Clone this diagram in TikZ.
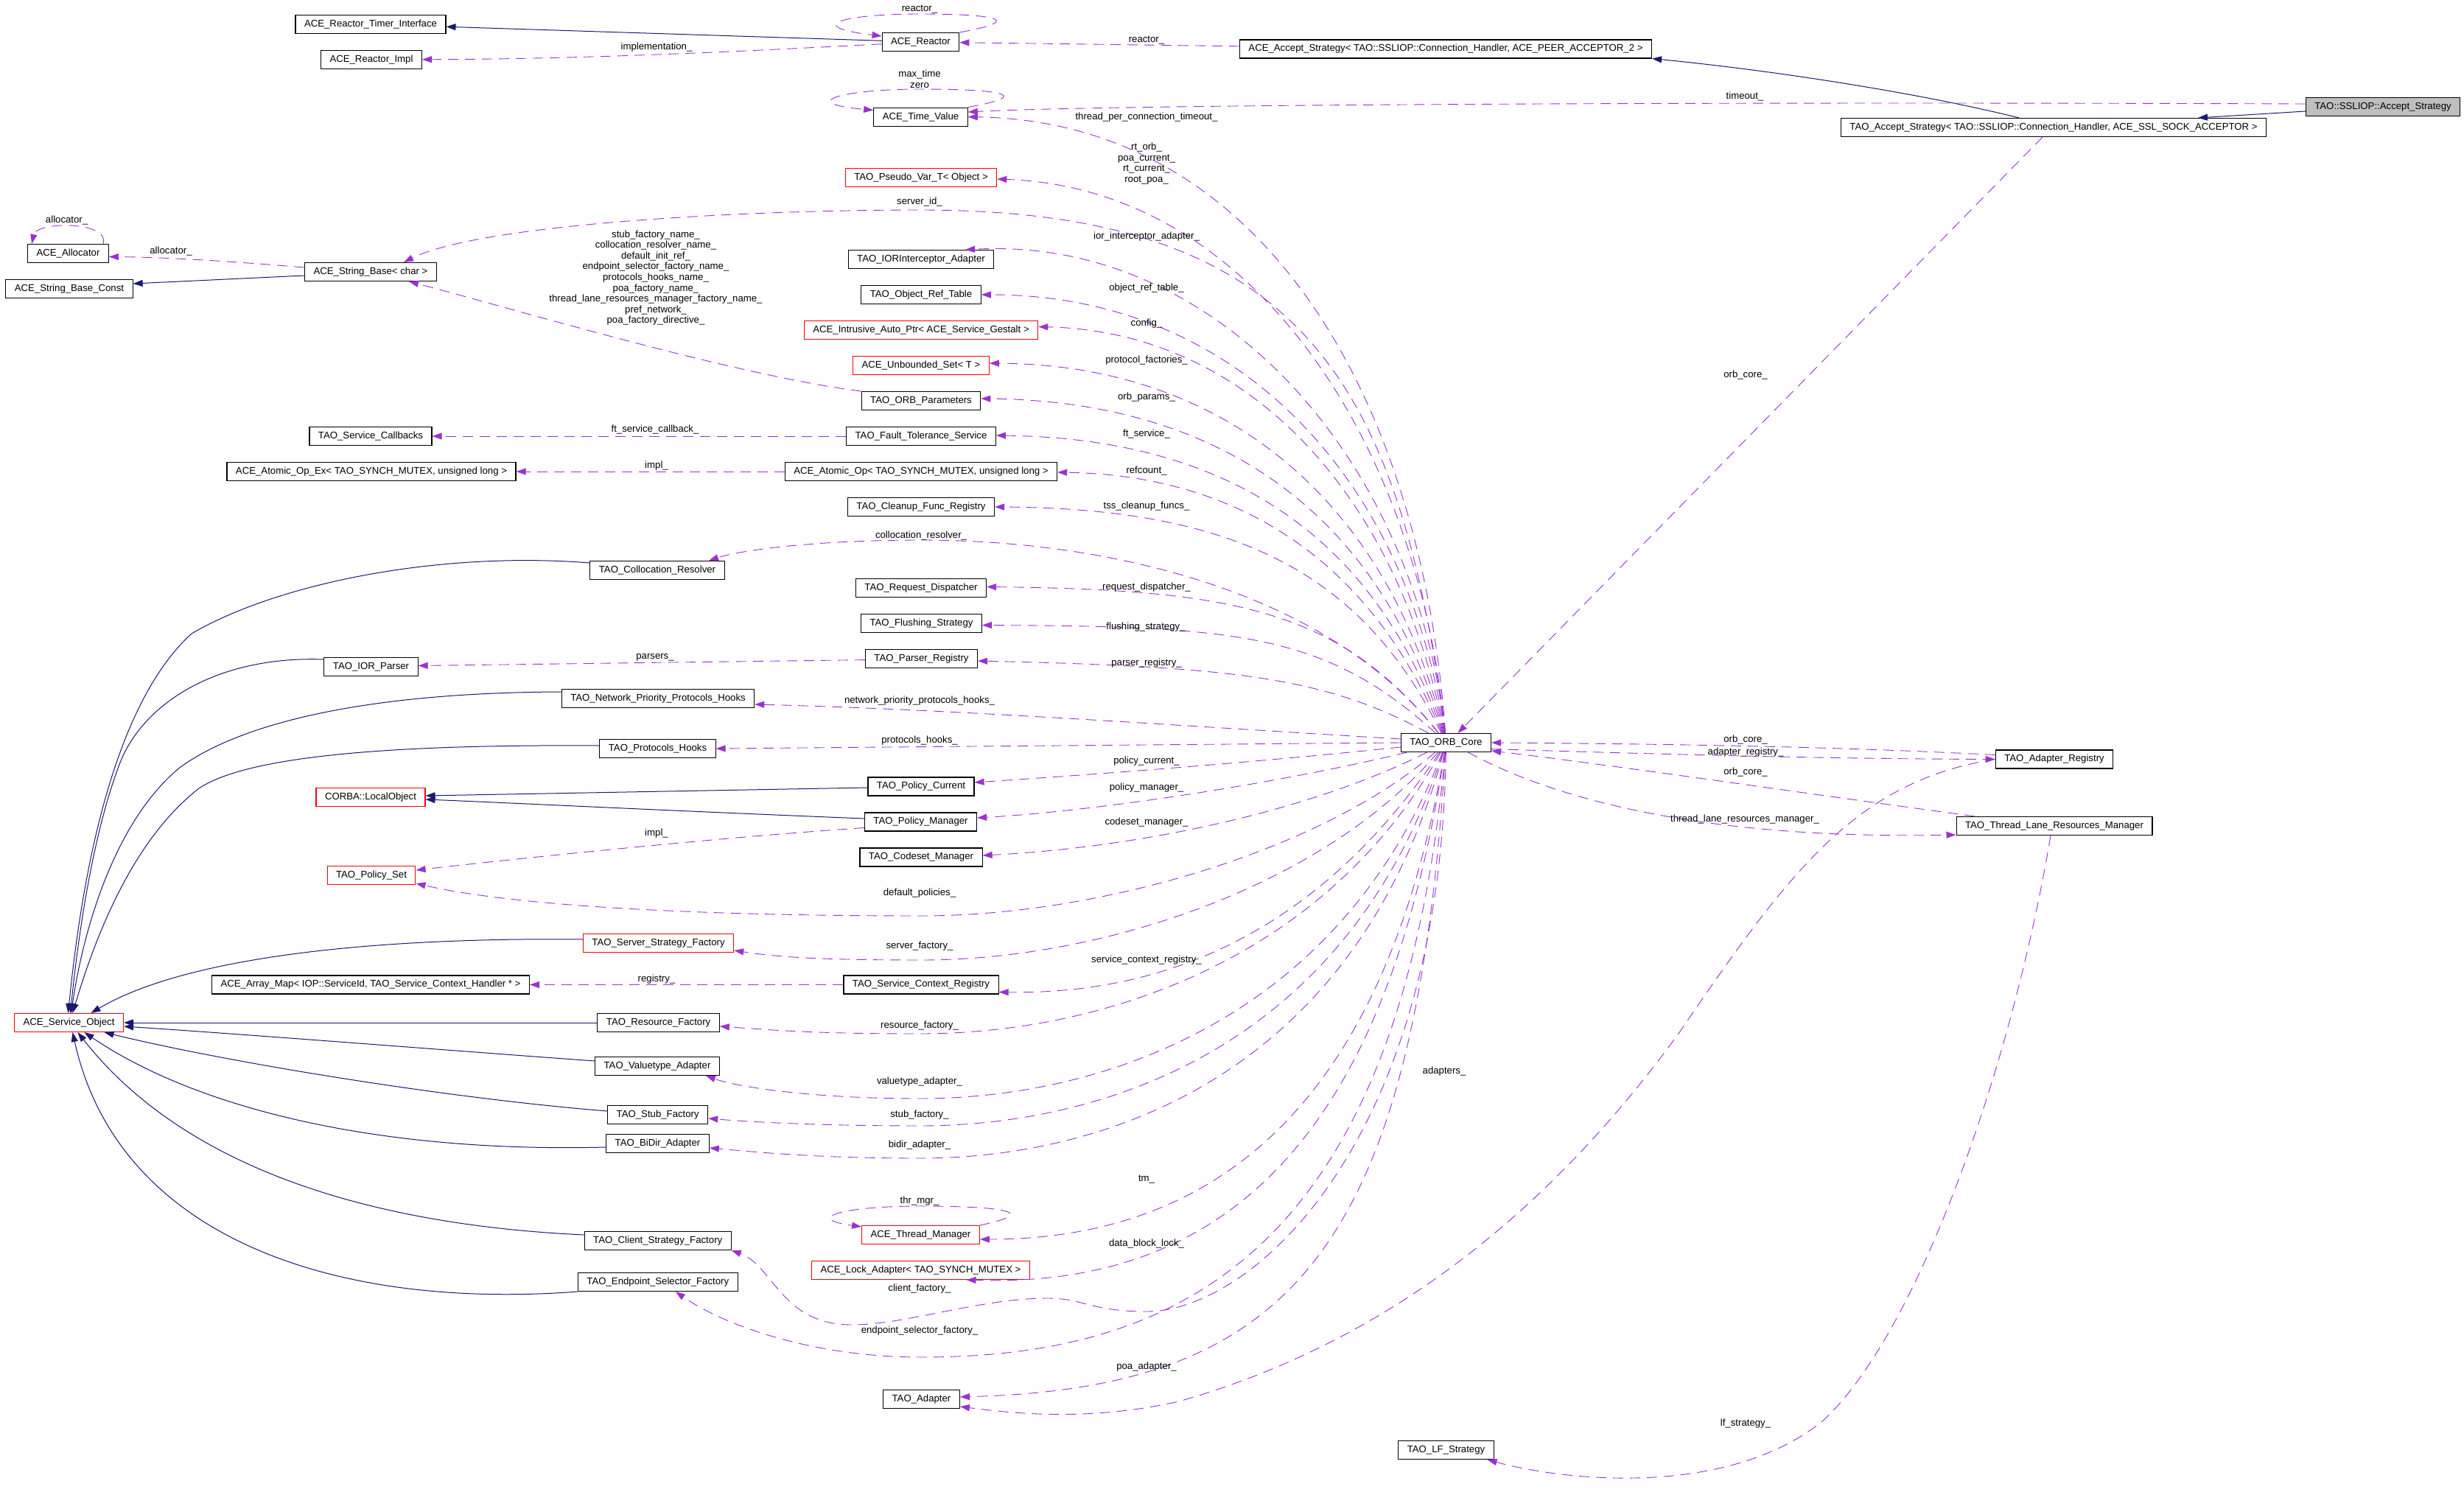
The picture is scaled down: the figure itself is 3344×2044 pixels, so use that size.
\documentclass[tikz,border=0pt]{standalone}
\usepackage{fontspec}
\setmainfont{Liberation Sans}
\usetikzlibrary{arrows.meta}
\definecolor{navyc}{HTML}{191970}
\definecolor{purpc}{HTML}{9A32CD}
\definecolor{greyc}{HTML}{BFBFBF}
\newcommand{\dxf}{\fontsize{13.2}{14.6}\selectfont}
\begin{document}
\begin{tikzpicture}[x=1pt,y=-1pt,
  cls/.style={draw=black, line width=1.1pt, minimum height=25pt, inner xsep=12pt, inner ysep=0pt, font=\dxf},
  redcls/.style={cls, draw=red},
  inherit/.style={draw=navyc, line width=1pt, -{Triangle[length=13pt,width=9pt]}},
  dep/.style={draw=purpc, line width=0.9pt, dash pattern=on 14pt off 9pt, -{Triangle[length=13pt,width=9pt]}},
  lab/.style={font=\dxf, inner sep=0pt, align=center}]
\useasboundingbox[fill=white] (0,0) rectangle (3344,2044);

% ---------- nodes ----------
\node[cls] (nRTI) at (503,33) {ACE\_Reactor\_Timer\_Interface};
\node[cls] (nRImpl) at (504,81) {ACE\_Reactor\_Impl};
\node[cls] (nAlloc) at (92.5,344) {ACE\_Allocator};
\node[cls] (nSBC) at (94,392) {ACE\_String\_Base\_Const};
\node[cls] (nSB) at (503,369) {ACE\_String\_Base< char >};
\node[cls] (nSCB) at (503,592) {TAO\_Service\_Callbacks};
\node[cls] (nAOPEx) at (504,640) {ACE\_Atomic\_Op\_Ex< TAO\_SYNCH\_MUTEX, unsigned long >};
\node[cls] (nReactor) at (1249.5,57) {ACE\_Reactor};
\node[cls] (nTV) at (1249.5,158.6) {ACE\_Time\_Value};
\node[redcls] (nPV) at (1250,241) {TAO\_Pseudo\_Var\_T< Object >};
\node[cls] (nIORA) at (1250,352) {TAO\_IORInterceptor\_Adapter};
\node[cls] (nORT) at (1250,400) {TAO\_Object\_Ref\_Table};
\node[redcls] (nIAP) at (1250,448) {ACE\_Intrusive\_Auto\_Ptr< ACE\_Service\_Gestalt >};
\node[redcls] (nUS) at (1250,496) {ACE\_Unbounded\_Set< T >};
\node[cls] (nORBP) at (1250,544) {TAO\_ORB\_Parameters};
\node[cls] (nFTS) at (1250,592) {TAO\_Fault\_Tolerance\_Service};
\node[cls] (nAOP) at (1250,640) {ACE\_Atomic\_Op< TAO\_SYNCH\_MUTEX, unsigned long >};
\node[cls] (nCFR) at (1250,688) {TAO\_Cleanup\_Func\_Registry};
\node[cls] (nColR) at (892,774) {TAO\_Collocation\_Resolver};
\node[cls] (nRD) at (1250,798) {TAO\_Request\_Dispatcher};
\node[cls] (nFS) at (1250.5,846) {TAO\_Flushing\_Strategy};
\node[cls] (nPR) at (1250.5,894) {TAO\_Parser\_Registry};
\node[cls] (nIORP) at (503.5,905) {TAO\_IOR\_Parser};
\node[cls] (nNPH) at (893,948) {TAO\_Network\_Priority\_Protocols\_Hooks};
\node[cls] (nPH) at (892.5,1016) {TAO\_Protocols\_Hooks};
\node[cls] (nPC) at (1250,1067.5) {TAO\_Policy\_Current};
\node[redcls] (nLO) at (503,1082) {CORBA::LocalObject};
\node[cls] (nPM) at (1249.5,1115.5) {TAO\_Policy\_Manager};
\node[cls] (nCM) at (1250,1163.5) {TAO\_Codeset\_Manager};
\node[redcls] (nPS) at (504,1188) {TAO\_Policy\_Set};
\node[redcls] (nSSF) at (893.6,1280) {TAO\_Server\_Strategy\_Factory};
\node[cls] (nAM) at (503,1336.5) {ACE\_Array\_Map< IOP::ServiceId, TAO\_Service\_Context\_Handler * >};
\node[cls] (nSCR) at (1250,1336.5) {TAO\_Service\_Context\_Registry};
\node[redcls] (nSO) at (93.5,1388) {ACE\_Service\_Object};
\node[cls] (nRF) at (893.6,1388) {TAO\_Resource\_Factory};
\node[cls] (nVA) at (892,1447) {TAO\_Valuetype\_Adapter};
\node[cls] (nStF) at (892.7,1513) {TAO\_Stub\_Factory};
\node[cls] (nBD) at (892.5,1552) {TAO\_BiDir\_Adapter};
\node[cls] (nCSF) at (892.7,1684) {TAO\_Client\_Strategy\_Factory};
\node[cls] (nESF) at (892.8,1740) {TAO\_Endpoint\_Selector\_Factory};
\node[redcls] (nThM) at (1249.5,1676) {ACE\_Thread\_Manager};
\node[redcls] (nLA) at (1249.5,1724) {ACE\_Lock\_Adapter< TAO\_SYNCH\_MUTEX >};
\node[cls] (nAd) at (1250.5,1899) {TAO\_Adapter};
\node[cls] (nLF) at (1962.5,1968) {TAO\_LF\_Strategy};
\node[cls] (nCore) at (1962.5,1008) {TAO\_ORB\_Core};
\node[cls] (nAR) at (2788,1030.5) {TAO\_Adapter\_Registry};
\node[cls] (nTLRM) at (2788,1121) {TAO\_Thread\_Lane\_Resources\_Manager};
\node[cls] (nAAS) at (1962,66.5) {ACE\_Accept\_Strategy< TAO::SSLIOP::Connection\_Handler, ACE\_PEER\_ACCEPTOR\_2 >};
\node[cls] (nTAS) at (2787,173) {TAO\_Accept\_Strategy< TAO::SSLIOP::Connection\_Handler, ACE\_SSL\_SOCK\_ACCEPTOR >};
\node[cls, fill=greyc] (nSSL) at (3234,145) {TAO::SSLIOP::Accept\_Strategy};

% ---------- inheritance ----------
\draw[inherit] (nReactor) -- (nRTI);
\draw[inherit] ([yshift=-5pt]nSB.west) -- ([yshift=7pt]nSBC.east);
\draw[inherit] ([yshift=-6pt]nSSL.west) -- ([xshift=196pt]nTAS.north);
\draw[inherit] ([xshift=-47pt]nTAS.north) .. controls (2600,125) and (2400,95) .. (nAAS.south east);
\draw[inherit] ([yshift=-1.5pt]nPC.west) -- ([yshift=2pt]nLO.east);
\draw[inherit] ([yshift=4.5pt]nPM.west) .. controls (900,1100) and (700,1090) .. ([yshift=-3pt]nLO.east);
\draw[inherit] ([yshift=10pt]nColR.west) .. controls (600,748) and (380,790) .. (260,860) .. controls (150,960) and (110,1200) .. ([xshift=-1pt]nSO.north);
\draw[inherit] ([yshift=10pt]nIORP.west) .. controls (300,890) and (200,950) .. (165,1030) .. controls (125,1130) and (105,1280) .. ([xshift=2pt]nSO.north);
\draw[inherit] ([yshift=9pt]nNPH.west) .. controls (500,940) and (330,980) .. (245,1041) .. controls (160,1110) and (115,1250) .. ([xshift=3pt]nSO.north);
\draw[inherit] ([yshift=4pt]nPH.west) .. controls (500,1010) and (330,1030) .. (270,1070) .. controls (180,1140) and (130,1270) .. ([xshift=5pt]nSO.north);
\draw[inherit] ([yshift=5pt]nSSF.west) .. controls (500,1272) and (250,1300) .. ([xshift=30pt]nSO.north);
\draw[inherit] (nRF) -- (nSO);
\draw[inherit] ([yshift=7pt]nVA.west) .. controls (600,1425) and (350,1405) .. ([yshift=-5pt]nSO.east);
\draw[inherit] ([yshift=5pt]nStF.west) .. controls (600,1490) and (300,1440) .. ([xshift=48pt]nSO.south);
\draw[inherit] ([yshift=-5pt]nBD.west) .. controls (500,1565) and (260,1500) .. ([xshift=21pt]nSO.south);
\draw[inherit] ([yshift=8pt]nCSF.west) .. controls (450,1660) and (230,1560) .. ([xshift=12pt]nSO.south);
\draw[inherit] (nESF.south west) .. controls (450,1778) and (160,1678) .. ([xshift=5pt]nSO.south);

% ---------- usage ----------
\draw[dep] (nReactor) .. controls (1000,70) and (800,80) .. (nRImpl);
\draw[dep] (nReactor.north east) .. controls (1400,26) and (1340,19) .. (1249,19) .. controls (1140,19) and (1090,36) .. ([yshift=-5pt]nReactor.north west);
\draw[dep] (nAAS) -- (nReactor);
\draw[dep] (nTV.north east) .. controls (1410,128) and (1350,121) .. (1249,121) .. controls (1140,121) and (1080,140) .. ([yshift=-4pt]nTV.north west);
\draw[dep] ([yshift=4pt]nSSL.west) .. controls (2300,138) and (1500,142) .. ([yshift=6.5pt]nTV.east);
\draw[dep] (nCore) .. controls (1930,550) and (1720,165) .. (nTV.east);
\draw[dep] (nCore) .. controls (1925,600) and (1700,255) .. ([yshift=-2pt]nPV.east);
\draw[dep] (nCore) .. controls (1900,500) and (1750,285) .. (1248,285) .. controls (1000,285) and (650,305) .. ([xshift=45pt]nSB.north);
\draw[dep] (nORBP.north west) .. controls (1000,510) and (700,420) .. ([xshift=52pt]nSB.south);
\draw[dep] ([xshift=-8pt]nAlloc.north east) .. controls (150,300) and (50,300) .. ([xshift=6pt]nAlloc.north west);
\draw[dep] ([yshift=6pt]nSB.west) .. controls (330,356) and (230,349) .. ([yshift=-4.5pt]nAlloc.east);
\draw[dep] (nCore) .. controls (1920,620) and (1650,320) .. ([xshift=60pt]nIORA.north);
\draw[dep] (nCore) .. controls (1910,650) and (1680,400) .. (nORT.east);
\draw[dep] (nCore) .. controls (1900,680) and (1700,450) .. ([yshift=4.5pt]nIAP.east);
\draw[dep] (nCore) .. controls (1890,700) and (1680,495) .. ([yshift=3pt]nUS.east);
\draw[dep] (nCore) .. controls (1880,720) and (1680,545) .. ([yshift=3pt]nORBP.east);
\draw[dep] (nCore) .. controls (1870,740) and (1680,595) .. ([yshift=1pt]nFTS.east);
\draw[dep] (nFTS) -- (nSCB);
\draw[dep] (nAOP) -- (nAOPEx);
\draw[dep] (nCore) .. controls (1860,760) and (1680,645) .. ([yshift=-1pt]nAOP.east);
\draw[dep] (nCore) .. controls (1850,780) and (1680,690) .. (nCFR.east);
\draw[dep] (nCore) .. controls (1800,800) and (1500,733) .. (1250,733) .. controls (1100,733) and (1000,748) .. ([xshift=70pt]nColR.north);
\draw[dep] (nCore) .. controls (1820,830) and (1680,800) .. ([yshift=1.5pt]nRD.east);
\draw[dep] (nCore) .. controls (1800,860) and (1680,850) .. ([yshift=-2.5pt]nFS.east);
\draw[dep] ([yshift=-1.6pt]nPR.west) -- ([yshift=1.5pt]nIORP.east);
\draw[dep] (nCore) .. controls (1800,920) and (1680,905) .. ([yshift=-3pt]nPR.east);
\draw[dep] ([yshift=5pt]nCore.west) .. controls (1600,985) and (1300,963) .. ([yshift=-8pt]nNPH.east);
\draw[dep] (nCore.west) -- (nPH.east);
\draw[dep] ([yshift=-6pt]nCore.west) .. controls (1700,1035) and (1500,1050) .. ([yshift=5.5pt]nPC.east);
\draw[dep] (nCore) .. controls (1750,1060) and (1500,1100) .. ([yshift=5.5pt]nPM.east);
\draw[dep] ([yshift=-8pt]nPM.west) .. controls (1000,1135) and (750,1160) .. ([yshift=7pt]nPS.east);
\draw[dep] (nCore) .. controls (1780,1100) and (1550,1150) .. ([yshift=2.5pt]nCM.east);
\draw[dep] (nCore) .. controls (1800,1150) and (1500,1243) .. (1250,1243) .. controls (950,1243) and (700,1230) .. ([yshift=-11pt]nPS.east);
\draw[dep] (nCore) .. controls (1800,1200) and (1500,1303) .. (1250,1303) .. controls (1100,1303) and (1050,1298) .. ([yshift=-10pt]nSSF.east);
\draw[dep] (nSCR) -- (nAM);
\draw[dep] (nCore) .. controls (1800,1250) and (1600,1350) .. ([yshift=-10pt]nSCR.east);
\draw[dep] (nCore) .. controls (1800,1300) and (1500,1403) .. (1248,1403) .. controls (1100,1403) and (1050,1398) .. ([yshift=-5pt]nRF.east);
\draw[dep] (nCore) .. controls (1820,1380) and (1500,1491) .. (1248,1491) .. controls (1100,1491) and (1000,1475) .. ([xshift=66pt]nVA.south);
\draw[dep] (nCore) .. controls (1830,1420) and (1500,1528) .. (1248,1528) .. controls (1100,1528) and (1010,1522) .. ([yshift=-5pt]nStF.east);
\draw[dep] (nCore) .. controls (1840,1460) and (1500,1572) .. (1248,1572) .. controls (1100,1572) and (1010,1562) .. ([yshift=-6pt]nBD.east);
\draw[dep] (nCore) .. controls (1880,1500) and (1650,1682) .. ([yshift=-6pt]nThM.east);
\draw[dep] (nThM.north east) .. controls (1420,1644) and (1350,1637) .. (1249,1637) .. controls (1140,1637) and (1090,1654) .. ([yshift=-2pt]nThM.north west);
\draw[dep] (nCore) .. controls (1880,1560) and (1650,1748) .. ([xshift=62pt]nLA.south);
\draw[dep] (nCore) .. controls (1955,1550) and (1700,1780) .. (1556,1780) .. controls (1480,1780) and (1470,1762) .. (1422,1762) .. controls (1330,1762) and (1230,1798) .. (1156,1798) .. controls (1060,1798) and (1050,1718) .. (nCSF.south east);
\draw[dep] (nCore) .. controls (1900,1700) and (1600,1842) .. (1250,1842) .. controls (1100,1842) and (980,1797) .. ([xshift=24pt]nESF.south);
\draw[dep] (nCore) .. controls (1920,1700) and (1750,1884) .. ([yshift=3pt]nAd.east);
\draw[dep] (nAR.west) .. controls (2520,1060) and (2430,1180) .. (2280,1400) .. controls (2050,1718) and (1800,1845) .. (1600,1902) .. controls (1480,1929) and (1380,1919) .. ([yshift=-10pt]nAd.east);
\draw[dep] ([xshift=-15pt]nTAS.south) -- ([xshift=16pt]nCore.north);
\draw[dep] ([yshift=6pt]nAR.west) .. controls (2500,1014) and (2300,1010) .. (nCore.east);
\draw[dep] ([yshift=-8.6pt]nCore.east) .. controls (2300,1025) and (2500,1030) .. (nAR.west);
\draw[dep] ([xshift=-108pt]nTLRM.north) .. controls (2400,1070) and (2200,1040) .. ([yshift=-11pt]nCore.east);
\draw[dep] ([xshift=30pt]nCore.south) .. controls (2100,1080) and (2300,1140) .. ([yshift=-12pt]nTLRM.west);
\draw[dep] ([xshift=-5pt]nTLRM.south) .. controls (2730,1450) and (2600,1815) .. (2472,1930) .. controls (2340,2034) and (2120,2009) .. ([xshift=56pt]nLF.south);

% ---------- labels ----------
\node[lab] (l1) at (1248,13) {reactor\_};
\node[lab] (l2) at (891,64) {implementation\_};
\node[lab] (l3) at (1556,55) {reactor\_};
\node[lab] (l4) at (1248,107.5) {max\_time\\zero};
\node[lab] (l5) at (2368,131) {timeout\_};
\node[lab] (l6) at (1556,159) {thread\_per\_connection\_timeout\_};
\node[lab] (l7) at (1556,222) {rt\_orb\_\\poa\_current\_\\rt\_current\_\\root\_poa\_};
\node[lab] (l8) at (1248,274) {server\_id\_};
\node[lab] (l9) at (90.6,299) {allocator\_};
\node[lab] (l10) at (232,341) {allocator\_};
\node[lab] (l11) at (890,377) {stub\_factory\_name\_\\collocation\_resolver\_name\_\\default\_init\_ref\_\\endpoint\_selector\_factory\_name\_\\protocols\_hooks\_name\_\\poa\_factory\_name\_\\thread\_lane\_resources\_manager\_factory\_name\_\\pref\_network\_\\poa\_factory\_directive\_};
\node[lab] (l12) at (1556,321) {ior\_interceptor\_adapter\_};
\node[lab] (l13) at (1556,391) {object\_ref\_table\_};
\node[lab] (l14) at (1556,439) {config\_};
\node[lab] (l15) at (1556,489) {protocol\_factories\_};
\node[lab] (l16) at (1556,539) {orb\_params\_};
\node[lab] (l17) at (889,583) {ft\_service\_callback\_};
\node[lab] (l18) at (1556,589) {ft\_service\_};
\node[lab] (l19) at (891,632) {impl\_};
\node[lab] (l20) at (1556,639) {refcount\_};
\node[lab] (l21) at (1556,686.6) {tss\_cleanup\_funcs\_};
\node[lab] (l22) at (1250,726.6) {collocation\_resolver\_};
\node[lab] (l23) at (1556,797) {request\_dispatcher\_};
\node[lab] (l24) at (1555,850.7) {flushing\_strategy\_};
\node[lab] (l25) at (889,892) {parsers\_};
\node[lab] (l26) at (1556,900) {parser\_registry\_};
\node[lab] (l27) at (1248,951.5) {network\_priority\_protocols\_hooks\_};
\node[lab] (l28) at (1248,1004.7) {protocols\_hooks\_};
\node[lab] (l29) at (1556,1033) {policy\_current\_};
\node[lab] (l30) at (1556,1069) {policy\_manager\_};
\node[lab] (l31) at (891,1130.6) {impl\_};
\node[lab] (l32) at (1556,1116) {codeset\_manager\_};
\node[lab] (l33) at (1248,1212) {default\_policies\_};
\node[lab] (l34) at (1248,1283.7) {server\_factory\_};
\node[lab] (l35) at (1556,1303) {service\_context\_registry\_};
\node[lab] (l36) at (891,1329) {registry\_};
\node[lab] (l37) at (1248,1392) {resource\_factory\_};
\node[lab] (l38) at (1248,1468) {valuetype\_adapter\_};
\node[lab] (l39) at (1248,1513) {stub\_factory\_};
\node[lab] (l40) at (1248,1554.5) {bidir\_adapter\_};
\node[lab] (l41) at (1556,1601) {tm\_};
\node[lab] (l42) at (1248,1630.5) {thr\_mgr\_};
\node[lab] (l43) at (1556,1688) {data\_block\_lock\_};
\node[lab] (l44) at (1248,1749) {client\_factory\_};
\node[lab] (l45) at (1248,1806) {endpoint\_selector\_factory\_};
\node[lab] (l46) at (1556,1855) {poa\_adapter\_};
\node[lab] (l47) at (1960,1453.7) {adapters\_};
\node[lab] (l48) at (2369,1932) {lf\_strategy\_};
\node[lab] (l49) at (2369,509) {orb\_core\_};
\node[lab] (l50) at (2369,1004) {orb\_core\_};
\node[lab] (l51) at (2369,1021) {adapter\_registry\_};
\node[lab] (l52) at (2369,1048) {orb\_core\_};
\node[lab] (l53) at (2368,1111.6) {thread\_lane\_resources\_manager\_};
\end{tikzpicture}
\end{document}
